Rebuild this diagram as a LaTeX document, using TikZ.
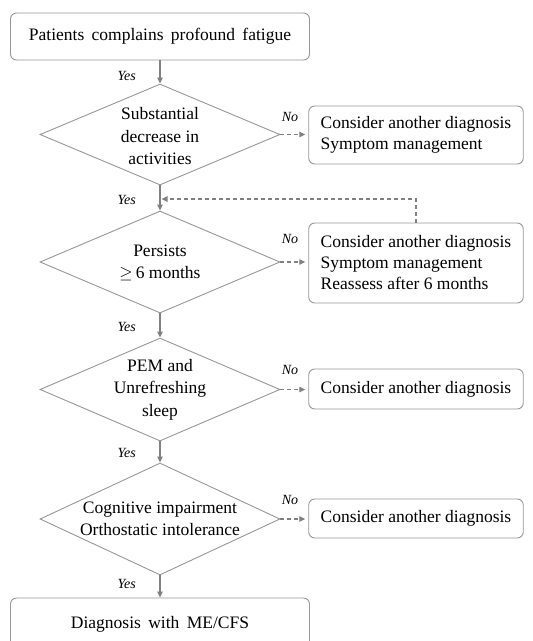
\documentclass[tikz,border=0pt]{standalone}
\usepackage{fontspec}
\setmainfont{Liberation Serif}
\usetikzlibrary{shapes.geometric,arrows.meta}
\definecolor{lc}{RGB}{128,128,128}
\definecolor{bc}{RGB}{150,150,150}
\begin{document}
\begin{tikzpicture}[x=1pt,y=-1pt,
  every node/.style={font=\fontsize{17.5}{21}\selectfont},
  rbox/.style={draw=bc, line width=0.9pt, rounded corners=6pt, minimum width=212pt, align=left, inner xsep=12pt},
  wbox/.style={draw=bc, line width=0.9pt, rounded corners=6pt, minimum width=299pt},
  dia/.style={draw=bc, line width=0.9pt, diamond, inner sep=0pt, minimum width=240pt},
  dtext/.style={align=center, font=\fontsize{17.5}{22.5}\selectfont},
  yarrow/.style={draw=lc, line width=1.2pt, -{Triangle[length=6pt,width=5.5pt]}},
  narrow/.style={draw=lc, line width=1.2pt, dash pattern=on 4pt off 3pt, -{Triangle[length=6pt,width=5.5pt]}},
  lbl/.style={font=\fontsize{14}{16}\selectfont\itshape, inner sep=0pt}]
\useasboundingbox (0,0) rectangle (533,641);

% main column
\node[wbox, minimum height=47pt] (top) at (160,36.5) {\spaceskip=0.42em\relax Patients complains profound fatigue};
\node[dia, minimum height=101pt] (d1) at (160,134.5) {};
\node[dtext] (d1t) at (160,136.5) {Substantial\\decrease in\\activities};
\node[dia, minimum height=102pt] (d2) at (160,262) {};
\node[dtext] (d2t) at (160,263) {Persists\\$\geq$\,6 months};
\node[dia, minimum height=103pt] (d3) at (160,389.5) {};
\node[dtext] (d3t) at (160,389.5) {PEM and\\Unrefreshing\\sleep};
\node[dia, minimum height=112pt] (d4) at (160,519) {};
\node[dtext] (d4t) at (160,519) {Cognitive impairment\\Orthostatic intolerance};
\node[wbox, minimum height=52pt] (fin) at (160,624) {\spaceskip=0.42em\relax Diagnosis with ME/CFS};

% right column
\node[rbox, minimum height=58pt] (b1) at (416,135) {Consider another diagnosis\\Symptom management};
\node[rbox, minimum height=80pt] (b2) at (416,263) {Consider another diagnosis\\Symptom management\\Reassess after 6 months};
\node[rbox, minimum height=40pt] (b3) at (416,389) {Consider another diagnosis};
\node[rbox, minimum height=39pt] (b4) at (416,518.5) {Consider another diagnosis};

\coordinate (fb) at (161.5,199);

% yes connectors
\draw[yarrow] (top) -- (d1.north);
\draw[yarrow] (d1.south) -- (d2.north);
\draw[yarrow] (d2.south) -- (d3.north);
\draw[yarrow] (d3.south) -- (d4.north);
\draw[yarrow] (d4.south) -- (fin.north);

% no connectors
\draw[narrow, shorten >=3pt] (d1.east) -- (d1.east -| b1.west);
\draw[narrow, shorten >=3pt] (d2.east) -- (d2.east -| b2.west);
\draw[narrow, shorten >=3pt] (d3.east) -- (d3.east -| b3.west);
\draw[narrow, shorten >=3pt] (d4.east) -- (d4.east -| b4.west);
\draw[narrow] (b2.north) |- (fb);

% labels
\node[lbl, anchor=east] (y1) at (136,76) {Yes};
\node[lbl, anchor=east] (y2) at (136,200) {Yes};
\node[lbl, anchor=east] (y3) at (136,327) {Yes};
\node[lbl, anchor=east] (y4) at (136,453) {Yes};
\node[lbl, anchor=east] (y5) at (136,584) {Yes};
\node[lbl] (n1) at (290,117) {No};
\node[lbl] (n2) at (290,239) {No};
\node[lbl] (n3) at (290,370) {No};
\node[lbl] (n4) at (290,500) {No};
\end{tikzpicture}
\end{document}
